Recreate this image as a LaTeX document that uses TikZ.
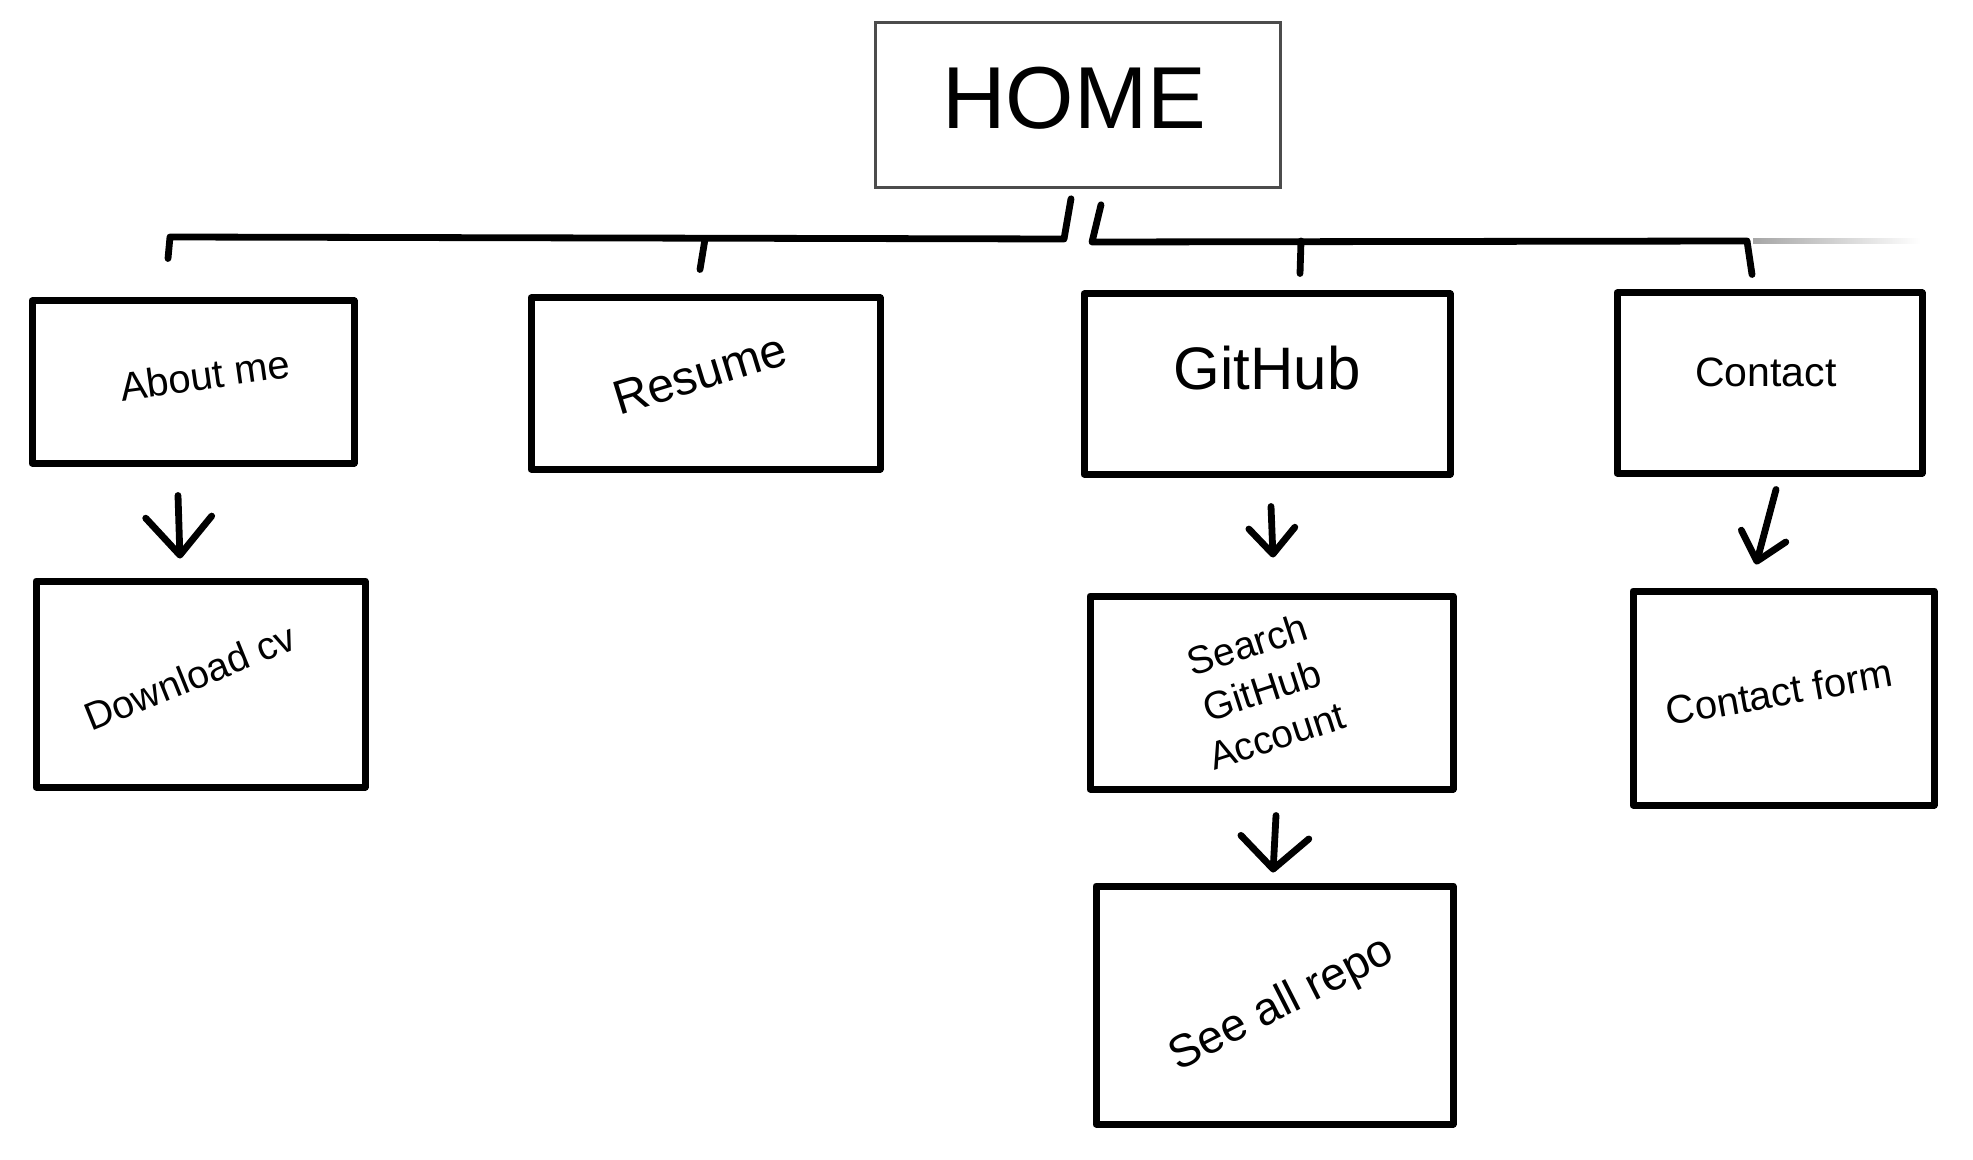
\documentclass[tikz,border=0pt]{standalone}
\usepackage{fontspec}
\setmainfont{Liberation Sans}
\usetikzlibrary{arrows.meta,calc}
\begin{document}
\begin{tikzpicture}[x=0.5pt,y=-0.5pt,
  box/.style={draw=black, line width=3.5pt, rectangle, inner sep=0pt, line join=round},
  homebox/.style={draw=black!70, line width=1.3pt, rectangle, inner sep=0pt},
  conn/.style={line width=3.4pt, line cap=round, line join=round},
  lbl/.style={inner sep=0pt, align=center, text=black},
  bigarr/.style={conn, -{Straight Barb[length=19pt,width=33pt,line cap=round,line join=round]}},
  midarr/.style={conn, -{Straight Barb[length=16pt,width=34pt,line cap=round,line join=round]}},
  smallarr/.style={conn, -{Straight Barb[length=13pt,width=23pt,line cap=round,line join=round]}},
]
\useasboundingbox (0,0) rectangle (1973,1160);

% boxes
\node[homebox, minimum width=202.5pt, minimum height=82.5pt] (home) at (1078,105) {};
\node[box, minimum width=161pt, minimum height=81pt] (about) at (193,382) {};
\node[box, minimum width=174.5pt, minimum height=85.5pt] (resume) at (705.5,383.5) {};
\node[box, minimum width=183pt, minimum height=90pt] (github) at (1267,384) {};
\node[box, minimum width=152.5pt, minimum height=90pt] (contact) at (1769.5,383) {};
\node[box, minimum width=164.5pt, minimum height=103pt] (dl) at (200.5,684) {};
\node[box, minimum width=181.5pt, minimum height=96.5pt] (search) at (1271.5,692.5) {};
\node[box, minimum width=150.5pt, minimum height=107pt] (cform) at (1783.5,698) {};
\node[box, minimum width=178.5pt, minimum height=119pt] (seeall) at (1274.5,1005) {};

% labels
\node[lbl, font=\fontsize{44}{53}\selectfont] (thome) at (1074,98) {HOME};
\node[lbl, rotate=8, font=\fontsize{20}{24}\selectfont] (tabout) at (205,375) {About me};
\node[lbl, rotate=17, font=\fontsize{24}{29}\selectfont] (tresume) at (700,374) {Resume};
\node[lbl, font=\fontsize{30}{36}\selectfont] (tgithub) at (1267,368) {GitHub};
\node[lbl, font=\fontsize{20.5}{24}\selectfont] (tcontact) at (1766,372) {Contact};
\node[lbl, rotate=22, font=\fontsize{19.5}{24}\selectfont] (tdl) at (190,677) {Download cv};
\node[lbl, rotate=18, font=\fontsize{19.5}{24}\selectfont] (tsearch) at (1262,690) {Search\\GitHub\\Account};
\node[lbl, rotate=10, font=\fontsize{20}{24}\selectfont] (tcform) at (1779,692) {Contact form};
\node[lbl, rotate=27, font=\fontsize{23}{28}\selectfont] (tseeall) at (1282,1005) {See all repo};

% bus coordinates
\coordinate (sA) at ($(home.south)+(-7,10)$);
\coordinate (sB) at ($(home.south)+(23,16)$);
\coordinate (bL) at (170,237);
\coordinate (bR) at (1747,241);

% left branch
\draw[conn] (sA) -- (1064,239) -- (bL) -- ($(about.north)+(-25,-39)$);
\draw[conn] (705,239) -- ($(resume.north)+(-5.5,-25)$);
% right branch
\draw[conn] (sB) -- (1092,242) -- (bR) -- ($(contact.north)+(-17.5,-15)$);
\draw[conn] (1301,241) -- ($(github.north)+(33,-17)$);
% faded continuation
\shade[left color=black!35, right color=white] (1753,238.5) rectangle (1920,243.5);

% arrows
\draw[bigarr] ($(about.south)+(-15,29)$) -- ($(dl.north)+(-20.5,-19)$);
\draw[smallarr] ($(github.south)+(4,29)$) -- ($(search.north)+(1.5,-35)$);
\draw[smallarr] ($(contact.south)+(6.5,13)$) -- ($(cform.north)+(-27.5,-23)$);
\draw[midarr] ($(search.south)+(4.5,23)$) -- ($(seeall.north)+(-1.5,-10)$);
\end{tikzpicture}
\end{document}
